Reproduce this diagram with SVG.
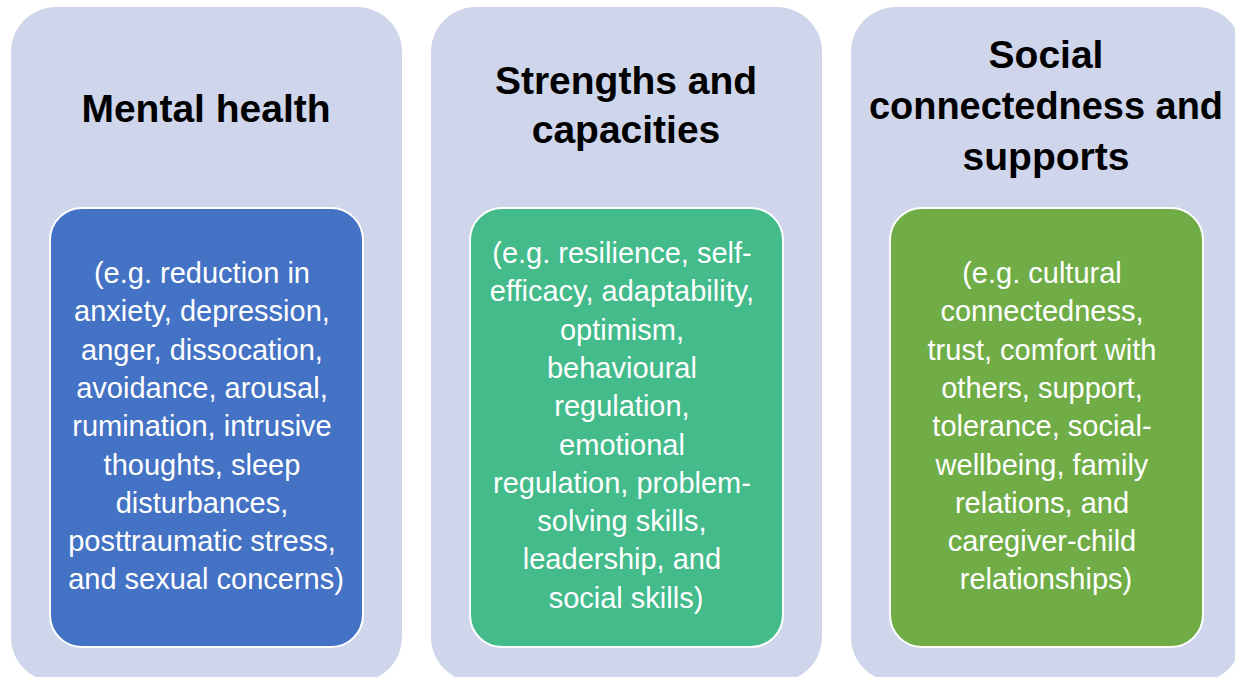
<svg xmlns="http://www.w3.org/2000/svg" width="1235" height="677" viewBox="0 0 1235 677">
<style>
.outer{fill:#CFD5EA}
.inner{stroke:#FFFFFF;stroke-width:2}
.title{font-family:"Liberation Sans",Arial,sans-serif;font-weight:bold;font-size:39px;fill:#000000;text-anchor:middle}
.body{font-family:"Liberation Sans",Arial,sans-serif;font-size:29px;fill:#FFFFFF;text-anchor:middle}
</style>
<rect width="1235" height="677" fill="#FFFFFF"/>
<g id="node-mental-health">
<rect class="outer" x="11" y="7" width="391" height="675" rx="45"/>
<text class="title" x="206" y="122">Mental health</text>
<rect class="inner" x="50" y="208" width="313" height="439" rx="32" fill="#4472C4"/>
<text class="body">
<tspan x="206" y="283">(e.g. reduction in</tspan>
<tspan x="206" y="321.3">anxiety, depression,</tspan>
<tspan x="206" y="359.6">anger, dissocation,</tspan>
<tspan x="206" y="397.9">avoidance, arousal,</tspan>
<tspan x="206" y="436.2">rumination, intrusive</tspan>
<tspan x="206" y="474.5">thoughts, sleep</tspan>
<tspan x="206" y="512.8">disturbances,</tspan>
<tspan x="206" y="551.1">posttraumatic stress,</tspan>
<tspan x="206" y="589.4">and sexual concerns)</tspan>
</text>
</g>
<g id="node-strengths">
<rect class="outer" x="431" y="7" width="391" height="675" rx="45"/>
<text class="title"><tspan x="626" y="94">Strengths and</tspan><tspan x="626" y="143">capacities</tspan></text>
<rect class="inner" x="470" y="208" width="313" height="439" rx="32" fill="#44BB8B"/>
<text class="body">
<tspan x="626" y="263">(e.g. resilience, self-</tspan>
<tspan x="626" y="301.3">efficacy, adaptability,</tspan>
<tspan x="626" y="339.6">optimism,</tspan>
<tspan x="626" y="377.9">behavioural</tspan>
<tspan x="626" y="416.2">regulation,</tspan>
<tspan x="626" y="454.5">emotional</tspan>
<tspan x="626" y="492.8">regulation, problem-</tspan>
<tspan x="626" y="531.1">solving skills,</tspan>
<tspan x="626" y="569.4">leadership, and</tspan>
<tspan x="626" y="607.7">social skills)</tspan>
</text>
</g>
<g id="node-social">
<rect class="outer" x="851" y="7" width="391" height="675" rx="45"/>
<text class="title" x="1046" y="68">Social</text>
<text class="title" x="1046" y="119" textLength="354" lengthAdjust="spacingAndGlyphs">connectedness and</text>
<text class="title" x="1046" y="170">supports</text>
<rect class="inner" x="890" y="208" width="313" height="439" rx="32" fill="#70AD47"/>
<text class="body">
<tspan x="1046" y="283">(e.g. cultural</tspan>
<tspan x="1046" y="321.3">connectedness,</tspan>
<tspan x="1046" y="359.6">trust, comfort with</tspan>
<tspan x="1046" y="397.9">others, support,</tspan>
<tspan x="1046" y="436.2">tolerance, social-</tspan>
<tspan x="1046" y="474.5">wellbeing, family</tspan>
<tspan x="1046" y="512.8">relations, and</tspan>
<tspan x="1046" y="551.1">caregiver-child</tspan>
<tspan x="1046" y="589.4">relationships)</tspan>
</text>
</g>
<g id="connectors"></g>
</svg>
